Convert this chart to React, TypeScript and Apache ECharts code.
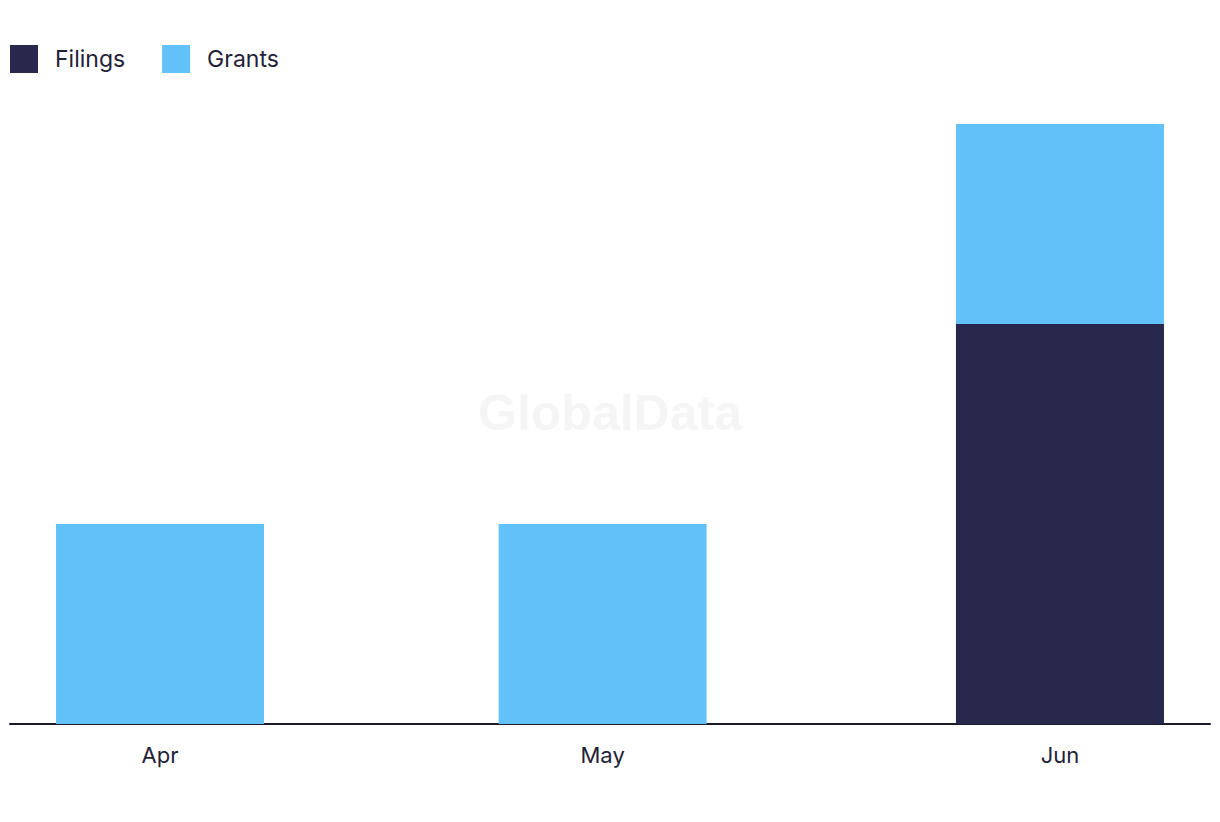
import React, { useEffect, useRef } from "react";
import * as echarts from "echarts";

const months = ["Apr", "May", "Jun"];
const monthDates: [number, number, number][] = [
  [2024, 3, 1],
  [2024, 4, 1],
  [2024, 5, 1],
];
const filings = [0, 0, 2];
const grants = [1, 1, 1];

const DAY = 86400000;

export default function App() {
  const ref = useRef<HTMLDivElement>(null);
  useEffect(() => {
    if (!ref.current) return;
    document.body.style.margin = "0";
    const chart = echarts.init(ref.current, null, { renderer: "svg" });
    const base = Date.UTC(...monthDates[0]);
    const days = monthDates.map(([y, m, d]) => Math.round((Date.UTC(y, m, d) - base) / DAY));
    const pad = 10.17;
    const font = "Inter";
    chart.setOption({
      animation: false,
      textStyle: { fontFamily: font },
      graphic: [
        {
          type: "text",
          left: "center",
          top: 388,
          style: {
            text: "GlobalData",
            fontSize: 50,
            fontWeight: "bold",
            fontFamily: "Liberation Sans",
            fill: "#f5f5f5",
          },
          z: -1,
        },
      ],
      legend: {
        left: 10,
        top: 45,
        padding: 0,
        itemWidth: 28,
        itemHeight: 28,
        itemGap: 37,
        icon: "rect",
        textStyle: {
          fontSize: 23,
          color: "#1f2237",
          fontFamily: font,
          padding: [0, 0, 0, 12],
        },
        data: ["Filings", "Grants"],
      },
      grid: { left: 10, right: 10, top: 124, bottom: 98, containLabel: false },
      xAxis: {
        type: "value",
        min: days[0] - pad,
        max: days[days.length - 1] + pad,
        axisLine: { show: true, onZero: false, lineStyle: { color: "#1a1a2a", width: 2 } },
        axisTick: { show: false },
        splitLine: { show: false },
        axisLabel: {
          customValues: days,
          formatter: (v: number) => {
            const i = days.indexOf(Math.round(v));
            return i >= 0 ? months[i] : "";
          },
          fontSize: 22,
          color: "#1f2237",
          margin: 20,
          fontFamily: font,
        },
      },
      yAxis: {
        type: "value",
        min: 0,
        max: 3,
        show: false,
        splitLine: { show: false },
      },
      series: [
        {
          // Grants sit on top of filings: drawn as the stack total, filings overlaid below
          name: "Grants",
          type: "bar",
          barWidth: 208,
          barGap: "-100%",
          itemStyle: { color: "#63c1f9" },
          data: days.map((t, i) => [t, filings[i] + grants[i]]),
          z: 2,
        },
        {
          name: "Filings",
          type: "bar",
          barWidth: 208,
          barGap: "-100%",
          itemStyle: { color: "#27284b" },
          data: days.map((t, i) => [t, filings[i]]),
          z: 3,
        },
      ],
    });
    return () => chart.dispose();
  }, []);
  return (
    <div
      ref={ref}
      style={{ position: "absolute", left: 0, top: 0, width: 1220, height: 822 }}
    />
  );
}
